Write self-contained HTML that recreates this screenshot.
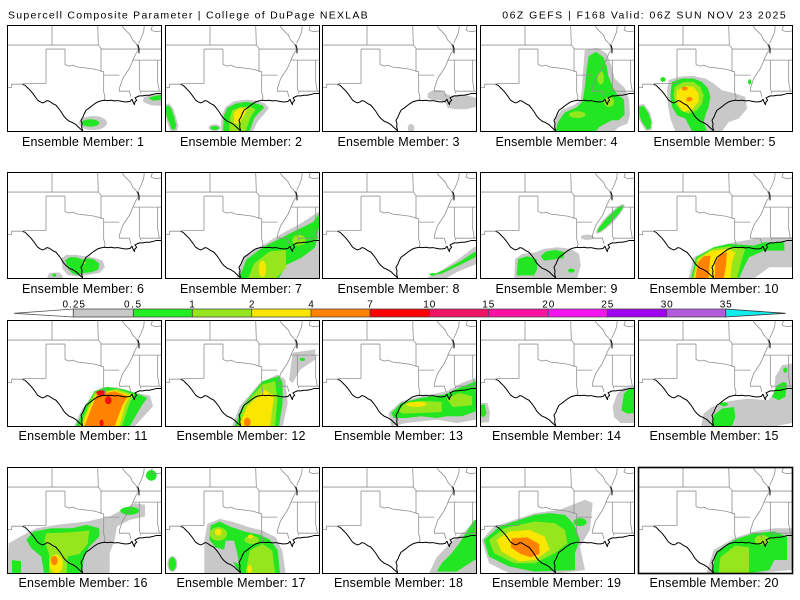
<!DOCTYPE html>
<html><head><meta charset="utf-8"><style>
html,body{margin:0;padding:0;background:#fff;}
svg{display:block;}
.g{fill:#c8c8c8}.gr{fill:#22e622}.yg{fill:#96e61e}.y{fill:#fae600}.o{fill:#ff8200}.r{fill:#f01010}
.sl{fill:none;stroke:#909090;stroke-width:0.8;vector-effect:non-scaling-stroke;stroke-linejoin:round}
.bl{fill:none;stroke:#000;stroke-width:1;vector-effect:non-scaling-stroke;stroke-linejoin:round}
text{font-family:"Liberation Sans",sans-serif;fill:#000}
.lb{font-size:12.5px}
.tt{font-size:10.5px}
.cb{font-size:10px}
</style></head><body>
<svg width="800" height="600" viewBox="0 0 800 600" xmlns="http://www.w3.org/2000/svg">
<defs>
<clipPath id="cp" clipPathUnits="userSpaceOnUse"><rect x="8" y="10" width="462" height="317"/></clipPath>
<g id="map">
<path class="sl" d="M143,10V70M8,70H282M280,10L282,70L290,80V150M290,82H470M125,82H182M125,82V185M182,82V128M8,197H22V187H57M57,185H125M182,128L195,133L205,130L220,136L240,138L255,140L270,142L285,146L298,150M298,150V210L302,225L300,235M298,160H345M352,10L358,20L368,30L378,40L385,55L395,65L400,75L402,85L395,95L388,110L382,125L375,140L365,155L355,170L350,185L345,200L345,208H375L380,225M385,115H470M405,115V200L410,215M460,115V180L465,208M410,208H470M420,10L418,30L410,50L403,65M445,10L440,25L452,30L470,28"/>
<path class="bl" d="M55,188L62,190L70,198L80,208L88,218L95,228L100,235L108,240L115,243L122,240L128,236L135,238L145,245L155,250L165,262L172,272L178,282L185,290L195,298L205,302L215,308L222,315L230,322L235,327M235,327L232,315L233,305L230,295L236,285L240,275L245,265L255,258L265,250L272,245L280,240L290,237L300,235L310,236L320,235L330,237L340,236L350,238L360,240L370,240L378,238L383,232L386,240L390,248L392,240L397,235L392,228L398,225L405,222L415,222L425,220L435,220L445,218L455,215L470,215M400,68L404,80L404,95"/>
</g>
</defs>
<rect width="800" height="600" fill="#fff"/>

<text class="tt" x="8" y="18.3" textLength="359.7" lengthAdjust="spacing">Supercell Composite Parameter | College of DuPage NEXLAB</text>
<text class="tt" x="502.3" y="18.3" textLength="283.4" lengthAdjust="spacing">06Z GEFS | F168 Valid: 06Z SUN NOV 23 2025</text>

<!-- Panel 1 -->
<g transform="translate(7,25) scale(0.33333,0.33438) translate(-8,-10)"><g clip-path="url(#cp)">
<ellipse class="g" cx="266" cy="303" rx="42" ry="21"/>
<ellipse class="gr" cx="258" cy="303" rx="27" ry="11"/>
<polygon class="g" points="418,226 440,216 470,212 470,252 440,250 416,240"/>
<polygon class="gr" points="432,228 450,222 470,219 470,234 445,236"/>
<use href="#map"/></g></g>
<rect x="7.5" y="25.5" width="154" height="106" fill="none" stroke="#000"/>
<text class="lb" x="83" y="146" text-anchor="middle" textLength="122" lengthAdjust="spacing">Ensemble Member: 1</text>

<!-- Panel 2 -->
<g transform="translate(165,25) scale(0.33333,0.33438) translate(-8,-10)"><g clip-path="url(#cp)">
<polygon class="g" points="8,248 20,244 32,258 40,282 48,310 44,327 24,327 14,300 8,280"/>
<polygon class="gr" points="8,255 18,250 28,262 35,285 42,310 38,323 28,322 20,300 12,280 8,270"/>
<ellipse class="g" cx="157" cy="317" rx="18" ry="10"/>
<ellipse class="gr" cx="157" cy="318" rx="13" ry="6"/>
<polygon class="g" points="175,327 178,280 190,255 215,238 250,233 280,236 305,243 320,258 305,277 285,300 272,327"/>
<polygon class="gr" points="182,327 185,280 195,258 220,245 250,240 275,243 300,250 305,258 290,272 275,290 262,327"/>
<polygon class="yg" points="200,327 203,285 210,265 235,255 265,255 280,262 265,285 250,327"/>
<polygon class="y" points="215,305 214,272 230,260 257,258 245,282 228,305"/>
<use href="#map"/></g></g>
<rect x="165.5" y="25.5" width="154" height="106" fill="none" stroke="#000"/>
<text class="lb" x="241" y="146" text-anchor="middle" textLength="122" lengthAdjust="spacing">Ensemble Member: 2</text>

<!-- Panel 3 -->
<g transform="translate(322,25) scale(0.33333,0.33438) translate(-8,-10)"><g clip-path="url(#cp)">
<polygon class="g" points="325,215 340,205 365,205 378,215 395,222 420,218 450,222 470,228 470,255 440,262 410,262 385,258 380,245 365,235 340,235 325,228"/>
<ellipse class="g" cx="275" cy="318" rx="10" ry="12"/>
<use href="#map"/></g></g>
<rect x="322.5" y="25.5" width="154" height="106" fill="none" stroke="#000"/>
<text class="lb" x="398.5" y="146" text-anchor="middle" textLength="122" lengthAdjust="spacing">Ensemble Member: 3</text>

<!-- Panel 4 -->
<g transform="translate(480,25) scale(0.33333,0.33438) translate(-8,-10)"><g clip-path="url(#cp)">
<polygon class="g" points="322,85 360,78 388,95 402,130 412,170 442,198 455,230 458,280 450,305 425,315 410,328 226,328 234,290 252,265 292,248 310,232 314,195 318,140"/>
<polygon class="gr" points="334,103 356,90 378,106 388,133 393,163 408,198 420,218 440,233 442,278 424,295 404,295 384,305 366,315 355,328 235,328 242,300 262,272 298,256 316,238 322,200 328,143"/>
<ellipse class="yg" cx="370" cy="168" rx="10" ry="20"/>
<ellipse class="yg" cx="300" cy="278" rx="25" ry="10"/>
<ellipse class="yg" cx="395" cy="240" rx="15" ry="15"/>
<use href="#map"/></g></g>
<rect x="480.5" y="25.5" width="154" height="106" fill="none" stroke="#000"/>
<text class="lb" x="556.5" y="146" text-anchor="middle" textLength="122" lengthAdjust="spacing">Ensemble Member: 4</text>

<!-- Panel 5 -->
<g transform="translate(638,25) scale(0.33333,0.33438) translate(-8,-10)"><g clip-path="url(#cp)">
<polygon class="g" points="100,175 130,165 170,162 210,170 235,185 260,205 300,215 330,225 335,260 310,290 280,300 260,328 120,328 105,290 98,250 95,205"/>
<polygon class="g" points="6,250 25,246 44,272 52,300 48,325 32,327 16,302 6,282"/>
<polygon class="gr" points="11,255 25,252 40,275 48,300 45,320 35,322 20,300 12,280"/>
<polygon class="gr" points="110,180 140,170 175,170 200,180 218,200 225,225 220,255 210,280 205,300 215,328 185,328 170,328 150,290 125,280 110,255 105,220"/>
<polygon class="yg" points="118,195 145,180 175,180 195,195 205,220 200,245 185,265 160,275 135,265 120,245 115,220"/>
<polygon class="y" points="125,205 150,192 175,195 190,215 190,240 170,262 145,270 130,250 122,230"/>
<ellipse class="o" cx="148" cy="200" rx="9" ry="6"/>
<ellipse class="o" cx="162" cy="232" rx="9" ry="7"/>
<ellipse class="gr" cx="83" cy="173" rx="8" ry="7"/>
<ellipse class="gr" cx="343" cy="180" rx="5" ry="8"/>
<use href="#map"/></g></g>
<rect x="638.5" y="25.5" width="154" height="106" fill="none" stroke="#000"/>
<text class="lb" x="714.5" y="146" text-anchor="middle" textLength="122" lengthAdjust="spacing">Ensemble Member: 5</text>

<!-- Panel 6 -->
<g transform="translate(7,172) scale(0.33333,0.33438) translate(-8,-10)"><g clip-path="url(#cp)">
<polygon class="g" points="170,270 185,258 215,258 240,262 265,265 295,275 302,295 285,312 250,318 220,322 190,318 175,300"/>
<polygon class="g" points="128,327 135,312 165,310 175,320 175,327"/>
<polygon class="gr" points="182,275 195,265 215,265 235,272 250,268 270,272 285,285 282,302 260,310 240,312 220,318 205,314 192,300"/>
<ellipse class="yg" cx="240" cy="282" rx="5" ry="4"/>
<ellipse class="gr" cx="150" cy="318" rx="6" ry="5"/>
<use href="#map"/></g></g>
<rect x="7.5" y="172.5" width="154" height="106" fill="none" stroke="#000"/>
<text class="lb" x="83" y="293" text-anchor="middle" textLength="122" lengthAdjust="spacing">Ensemble Member: 6</text>

<!-- Panel 7 -->
<g transform="translate(165,172) scale(0.33333,0.33438) translate(-8,-10)"><g clip-path="url(#cp)">
<polygon class="g" points="222,327 244,262 305,226 366,190 412,166 470,128 470,327"/>
<polygon class="gr" points="230,327 252,272 306,232 360,206 398,186 428,172 452,160 470,136 470,175 458,236 418,266 372,288 350,327"/>
<polygon class="yg" points="258,327 275,284 322,248 370,242 372,296 342,327"/>
<ellipse class="yg" cx="410" cy="214" rx="20" ry="16"/>
<ellipse class="y" cx="300" cy="300" rx="11" ry="25"/>
<use href="#map"/></g></g>
<rect x="165.5" y="172.5" width="154" height="106" fill="none" stroke="#000"/>
<text class="lb" x="241" y="293" text-anchor="middle" textLength="122" lengthAdjust="spacing">Ensemble Member: 7</text>

<!-- Panel 8 -->
<g transform="translate(322,172) scale(0.33333,0.33438) translate(-8,-10)"><g clip-path="url(#cp)">
<polygon class="g" points="322,327 367,304 413,274 466,234 470,234 470,286 413,309 382,327"/>
<polygon class="gr" points="337,319 382,299 428,274 466,249 470,249 470,264 420,289 367,314"/>
<ellipse class="gr" cx="340" cy="316" rx="10" ry="4"/>
<use href="#map"/></g></g>
<rect x="322.5" y="172.5" width="154" height="106" fill="none" stroke="#000"/>
<text class="lb" x="398.5" y="293" text-anchor="middle" textLength="122" lengthAdjust="spacing">Ensemble Member: 8</text>

<!-- Panel 9 -->
<g transform="translate(480,172) scale(0.33333,0.33438) translate(-8,-10)"><g clip-path="url(#cp)">
<ellipse class="g" cx="399" cy="150" rx="60" ry="13" transform="rotate(-46 399 150)"/>
<ellipse class="gr" cx="399" cy="150" rx="55" ry="9" transform="rotate(-46 399 150)"/>
<ellipse class="g" cx="330" cy="205" rx="20" ry="8"/>
<polygon class="g" points="111,327 113,270 135,255 175,250 200,240 240,235 280,240 305,255 310,290 300,327"/>
<polygon class="gr" points="118,319 122,270 150,262 178,270 180,300 170,319"/>
<polygon class="gr" points="190,262 205,248 235,243 262,250 258,268 225,272 200,275"/>
<ellipse class="gr" cx="282" cy="305" rx="10" ry="6"/>
<use href="#map"/></g></g>
<rect x="480.5" y="172.5" width="154" height="106" fill="none" stroke="#000"/>
<text class="lb" x="556.5" y="293" text-anchor="middle" textLength="122" lengthAdjust="spacing">Ensemble Member: 9</text>

<!-- Panel 10 -->
<g transform="translate(638,172) scale(0.33333,0.33438) translate(-8,-10)"><g clip-path="url(#cp)">
<polygon class="g" points="160,328 175,265 235,235 296,220 387,205 470,205 470,295 402,295 356,328"/>
<polygon class="gr" points="167,328 182,265 235,235 281,225 356,230 387,220 447,220 447,245 387,245 341,265 326,295 311,328"/>
<polygon class="yg" points="172,328 185,268 230,240 281,232 330,240 320,270 305,328"/>
<polygon class="y" points="176,328 188,272 228,246 275,240 300,250 290,280 285,328"/>
<polygon class="o" points="180,328 188,280 205,262 225,260 222,295 220,328"/>
<polygon class="o" points="238,328 240,280 255,255 275,250 272,290 265,328"/>
<use href="#map"/></g></g>
<rect x="638.5" y="172.5" width="154" height="106" fill="none" stroke="#000"/>
<text class="lb" x="714" y="293" text-anchor="middle" textLength="129" lengthAdjust="spacing">Ensemble Member: 10</text>

<!-- Colorbar -->
<polygon points="14,313.3 73.3,309 73.3,317" fill="#fff" stroke="#555" stroke-width="0.8"/>
<rect x="73.3" y="309" width="60" height="8" fill="#c8c8c8"/>
<rect x="133.3" y="309" width="59" height="8" fill="#22ee22"/>
<rect x="192.3" y="309" width="59.4" height="8" fill="#96e61e"/>
<rect x="251.7" y="309" width="59.3" height="8" fill="#fae600"/>
<rect x="311" y="309" width="59" height="8" fill="#ff8200"/>
<rect x="370" y="309" width="59.3" height="8" fill="#ff0000"/>
<rect x="429.3" y="309" width="59" height="8" fill="#f01464"/>
<rect x="488.3" y="309" width="60" height="8" fill="#ff10a0"/>
<rect x="548.3" y="309" width="59" height="8" fill="#f514f0"/>
<rect x="607.3" y="309" width="59.4" height="8" fill="#a000f0"/>
<rect x="666.7" y="309" width="59" height="8" fill="#b45adc"/>
<polygon points="725.7,309 785.7,313.3 725.7,317" fill="#10ecec" stroke="#333" stroke-width="0.8"/>
<path d="M73.3,309H725.7M73.3,317H725.7M73.3,309V317M133.3,309V317M192.3,309V317M251.7,309V317M311,309V317M370,309V317M429.3,309V317M488.3,309V317M548.3,309V317M607.3,309V317M666.7,309V317M725.7,309V317" stroke="#444" stroke-width="0.8" fill="none"/>
<g class="cb" text-anchor="middle">
<text x="73.7" y="307.5" class="cb" textLength="22.5" lengthAdjust="spacing">0.25</text>
<text x="132.5" y="307.5" class="cb" textLength="17" lengthAdjust="spacing">0.5</text>
<text x="192" y="307.5" class="cb">1</text>
<text x="251.7" y="307.5" class="cb">2</text>
<text x="311" y="307.5" class="cb">4</text>
<text x="370" y="307.5" class="cb">7</text>
<text x="429.3" y="307.5" class="cb" textLength="12" lengthAdjust="spacing">10</text>
<text x="488.3" y="307.5" class="cb" textLength="12" lengthAdjust="spacing">15</text>
<text x="548.3" y="307.5" class="cb" textLength="12" lengthAdjust="spacing">20</text>
<text x="607.3" y="307.5" class="cb" textLength="12" lengthAdjust="spacing">25</text>
<text x="666.7" y="307.5" class="cb" textLength="12" lengthAdjust="spacing">30</text>
<text x="725.7" y="307.5" class="cb" textLength="12" lengthAdjust="spacing">35</text>
</g>

<!-- Panel 11 -->
<g transform="translate(7,320) scale(0.33333,0.33438) translate(-8,-10)"><g clip-path="url(#cp)">
<polygon class="g" points="209,328 232,278 270,228 293,211 338,211 384,226 437,236 446,268 391,328"/>
<polygon class="gr" points="214,328 240,278 270,223 308,210 361,218 406,233 429,243 414,263 376,328"/>
<polygon class="yg" points="225,328 247,278 270,228 338,216 390,233 376,258 353,328"/>
<polygon class="y" points="232,328 252,278 275,232 330,220 380,235 365,258 345,328"/>
<polygon class="o" points="240,328 263,268 278,233 331,223 370,238 353,268 331,328"/>
<ellipse class="r" cx="290" cy="228" rx="14" ry="8"/>
<ellipse class="r" cx="312" cy="250" rx="10" ry="12"/>
<ellipse class="r" cx="292" cy="318" rx="6" ry="10"/>
<use href="#map"/></g></g>
<rect x="7.5" y="320.5" width="154" height="106" fill="none" stroke="#000"/>
<text class="lb" x="83" y="440" text-anchor="middle" textLength="129" lengthAdjust="spacing">Ensemble Member: 11</text>

<!-- Panel 12 -->
<g transform="translate(165,320) scale(0.33333,0.33438) translate(-8,-10)"><g clip-path="url(#cp)">
<polygon class="g" points="209,328 232,268 293,198 346,173 369,188 376,258 361,328"/>
<polygon class="g" points="391,108 459,98 459,128 414,158 391,198 380,190"/>
<polygon class="gr" points="217,328 240,268 300,193 350,178 361,198 361,258 350,328"/>
<polygon class="yg" points="225,328 247,263 300,203 338,193 345,248 338,328"/>
<polygon class="y" points="229,328 255,268 308,218 335,238 323,328"/>
<ellipse class="o" cx="255" cy="316" rx="10" ry="14"/>
<ellipse class="gr" cx="420" cy="128" rx="8" ry="5"/>
<use href="#map"/></g></g>
<rect x="165.5" y="320.5" width="154" height="106" fill="none" stroke="#000"/>
<text class="lb" x="241" y="440" text-anchor="middle" textLength="129" lengthAdjust="spacing">Ensemble Member: 12</text>

<!-- Panel 13 -->
<g transform="translate(322,320) scale(0.33333,0.33438) translate(-8,-10)"><g clip-path="url(#cp)">
<polygon class="g" points="208,288 246,253 306,238 382,223 428,198 470,183 470,308 412,318 352,308 261,318 216,328"/>
<polygon class="gr" points="216,288 246,258 306,243 375,233 420,213 470,193 470,283 428,298 382,298 352,303 306,298 261,303 223,303"/>
<polygon class="yg" points="238,283 255,260 306,252 367,255 367,285 300,288 250,290"/>
<polygon class="yg" points="382,245 420,228 458,238 458,265 400,270"/>
<ellipse class="y" cx="291" cy="262" rx="30" ry="8"/>
<use href="#map"/></g></g>
<rect x="322.5" y="320.5" width="154" height="106" fill="none" stroke="#000"/>
<text class="lb" x="398.5" y="440" text-anchor="middle" textLength="129" lengthAdjust="spacing">Ensemble Member: 13</text>

<!-- Panel 14 -->
<g transform="translate(480,320) scale(0.33333,0.33438) translate(-8,-10)"><g clip-path="url(#cp)">
<polygon class="g" points="8,258 30,258 38,285 35,315 8,318"/>
<polygon class="gr" points="8,265 22,262 28,290 20,300 8,298"/>
<polygon class="g" points="406,268 420,230 440,212 470,210 470,318 430,318 410,300"/>
<polygon class="gr" points="432,280 440,230 455,215 470,212 470,288 450,290"/>
<use href="#map"/></g></g>
<rect x="480.5" y="320.5" width="154" height="106" fill="none" stroke="#000"/>
<text class="lb" x="556.5" y="440" text-anchor="middle" textLength="129" lengthAdjust="spacing">Ensemble Member: 14</text>

<!-- Panel 15 -->
<g transform="translate(638,320) scale(0.33333,0.33438) translate(-8,-10)"><g clip-path="url(#cp)">
<polygon class="g" points="197,328 205,290 230,270 270,255 300,250 340,245 370,248 400,250 417,225 420,180 440,145 470,140 470,318 420,328"/>
<polygon class="gr" points="228,328 235,295 260,275 296,270 300,300 290,328"/>
<ellipse class="gr" cx="266" cy="262" rx="12" ry="6"/>
<polygon class="gr" points="410,240 425,205 445,195 455,200 450,240 430,250"/>
<ellipse class="gr" cx="450" cy="160" rx="6" ry="8"/>
<use href="#map"/></g></g>
<rect x="638.5" y="320.5" width="154" height="106" fill="none" stroke="#000"/>
<text class="lb" x="714" y="440" text-anchor="middle" textLength="129" lengthAdjust="spacing">Ensemble Member: 15</text>

<!-- Panel 16 -->
<g transform="translate(7,467) scale(0.33333,0.33438) translate(-8,-10)"><g clip-path="url(#cp)">
<polygon class="g" points="8,328 13,238 58,213 96,193 156,183 247,173 316,158 353,138 391,118 422,123 422,158 376,168 338,188 331,228 316,268 316,328"/>
<polygon class="gr" points="66,228 88,203 141,193 202,193 247,183 285,193 285,218 255,248 240,278 232,328 119,328 111,278 81,253"/>
<ellipse class="gr" cx="441" cy="35" rx="16" ry="16"/>
<ellipse class="gr" cx="376" cy="141" rx="28" ry="12"/>
<polygon class="yg" points="126,208 200,205 255,200 250,240 225,270 190,278 187,328 134,328 134,270 120,230"/>
<ellipse class="y" cx="156" cy="300" rx="20" ry="28"/>
<ellipse class="o" cx="150" cy="290" rx="10" ry="14"/>
<polygon class="gr" points="23,288 50,292 50,328 23,328"/>
<use href="#map"/></g></g>
<rect x="7.5" y="467.5" width="154" height="106" fill="none" stroke="#000"/>
<text class="lb" x="83" y="587" text-anchor="middle" textLength="129" lengthAdjust="spacing">Ensemble Member: 16</text>

<!-- Panel 17 -->
<g transform="translate(165,467) scale(0.33333,0.33438) translate(-8,-10)"><g clip-path="url(#cp)">
<polygon class="g" points="126,328 126,230 135,180 172,165 215,175 260,190 300,200 340,220 360,260 370,328"/>
<polygon class="gr" points="141,228 145,185 172,173 202,188 247,203 293,213 323,228 346,258 353,328 232,328 209,288 187,258 160,250"/>
<polygon class="g" points="190,230 215,230 225,270 230,300 200,290 185,260"/>
<ellipse class="yg" cx="168" cy="210" rx="26" ry="20"/>
<ellipse class="yg" cx="268" cy="228" rx="22" ry="12"/>
<polygon class="yg" points="250,328 262,260 300,240 330,260 338,328"/>
<ellipse class="y" cx="168" cy="205" rx="10" ry="10"/>
<ellipse class="y" cx="265" cy="218" rx="8" ry="6"/>
<ellipse class="y" cx="262" cy="315" rx="7" ry="12"/>
<ellipse class="g" cx="30" cy="300" rx="15" ry="24"/>
<ellipse class="gr" cx="30" cy="300" rx="11" ry="20"/>
<use href="#map"/></g></g>
<rect x="165.5" y="467.5" width="154" height="106" fill="none" stroke="#000"/>
<text class="lb" x="241" y="587" text-anchor="middle" textLength="129" lengthAdjust="spacing">Ensemble Member: 17</text>

<!-- Panel 18 -->
<g transform="translate(322,467) scale(0.33333,0.33438) translate(-8,-10)"><g clip-path="url(#cp)">
<polygon class="g" points="329,328 352,280 400,230 440,200 466,168 470,168 470,328"/>
<polygon class="gr" points="466,168 452,188 420,238 397,268 367,298 352,323 412,323 466,288 470,288 470,168"/>
<use href="#map"/></g></g>
<rect x="322.5" y="467.5" width="154" height="106" fill="none" stroke="#000"/>
<text class="lb" x="398.5" y="587" text-anchor="middle" textLength="129" lengthAdjust="spacing">Ensemble Member: 18</text>

<!-- Panel 19 -->
<g transform="translate(480,467) scale(0.33333,0.33438) translate(-8,-10)"><g clip-path="url(#cp)">
<polygon class="g" points="13,228 50,188 96,173 172,148 247,138 323,108 346,118 338,198 308,248 323,318 247,328 96,328 35,298"/>
<polygon class="gr" points="20,228 66,188 111,173 172,153 217,148 263,153 278,168 293,188 308,228 293,268 293,318 172,323 96,308 35,278"/>
<ellipse class="gr" cx="308" cy="175" rx="20" ry="12"/>
<polygon class="yg" points="35,228 81,193 172,173 232,178 263,198 270,238 232,268 172,298 111,298 50,268"/>
<polygon class="y" points="58,228 96,203 156,198 202,218 217,258 172,288 126,293 73,263"/>
<polygon class="o" points="103,223 150,220 185,240 187,270 160,280 130,270 100,250"/>
<use href="#map"/></g></g>
<rect x="480.5" y="467.5" width="154" height="106" fill="none" stroke="#000"/>
<text class="lb" x="556.5" y="587" text-anchor="middle" textLength="129" lengthAdjust="spacing">Ensemble Member: 19</text>

<!-- Panel 20 -->
<g transform="translate(638,467) scale(0.33333,0.33438) translate(-8,-10)"><g clip-path="url(#cp)">
<polygon class="g" points="213,328 235,258 296,223 356,203 417,193 470,193 470,318 356,328"/>
<polygon class="gr" points="228,328 243,263 296,228 356,208 417,203 455,218 455,288 417,288 402,318 341,328"/>
<polygon class="yg" points="250,328 255,280 300,245 341,250 341,328"/>
<ellipse class="yg" cx="380" cy="228" rx="22" ry="14"/>
<use href="#map"/></g></g>
<rect x="638.5" y="467.5" width="154" height="106" fill="none" stroke="#000" stroke-width="1.6"/>
<text class="lb" x="714" y="587" text-anchor="middle" textLength="129" lengthAdjust="spacing">Ensemble Member: 20</text>
</svg>
</body></html>
